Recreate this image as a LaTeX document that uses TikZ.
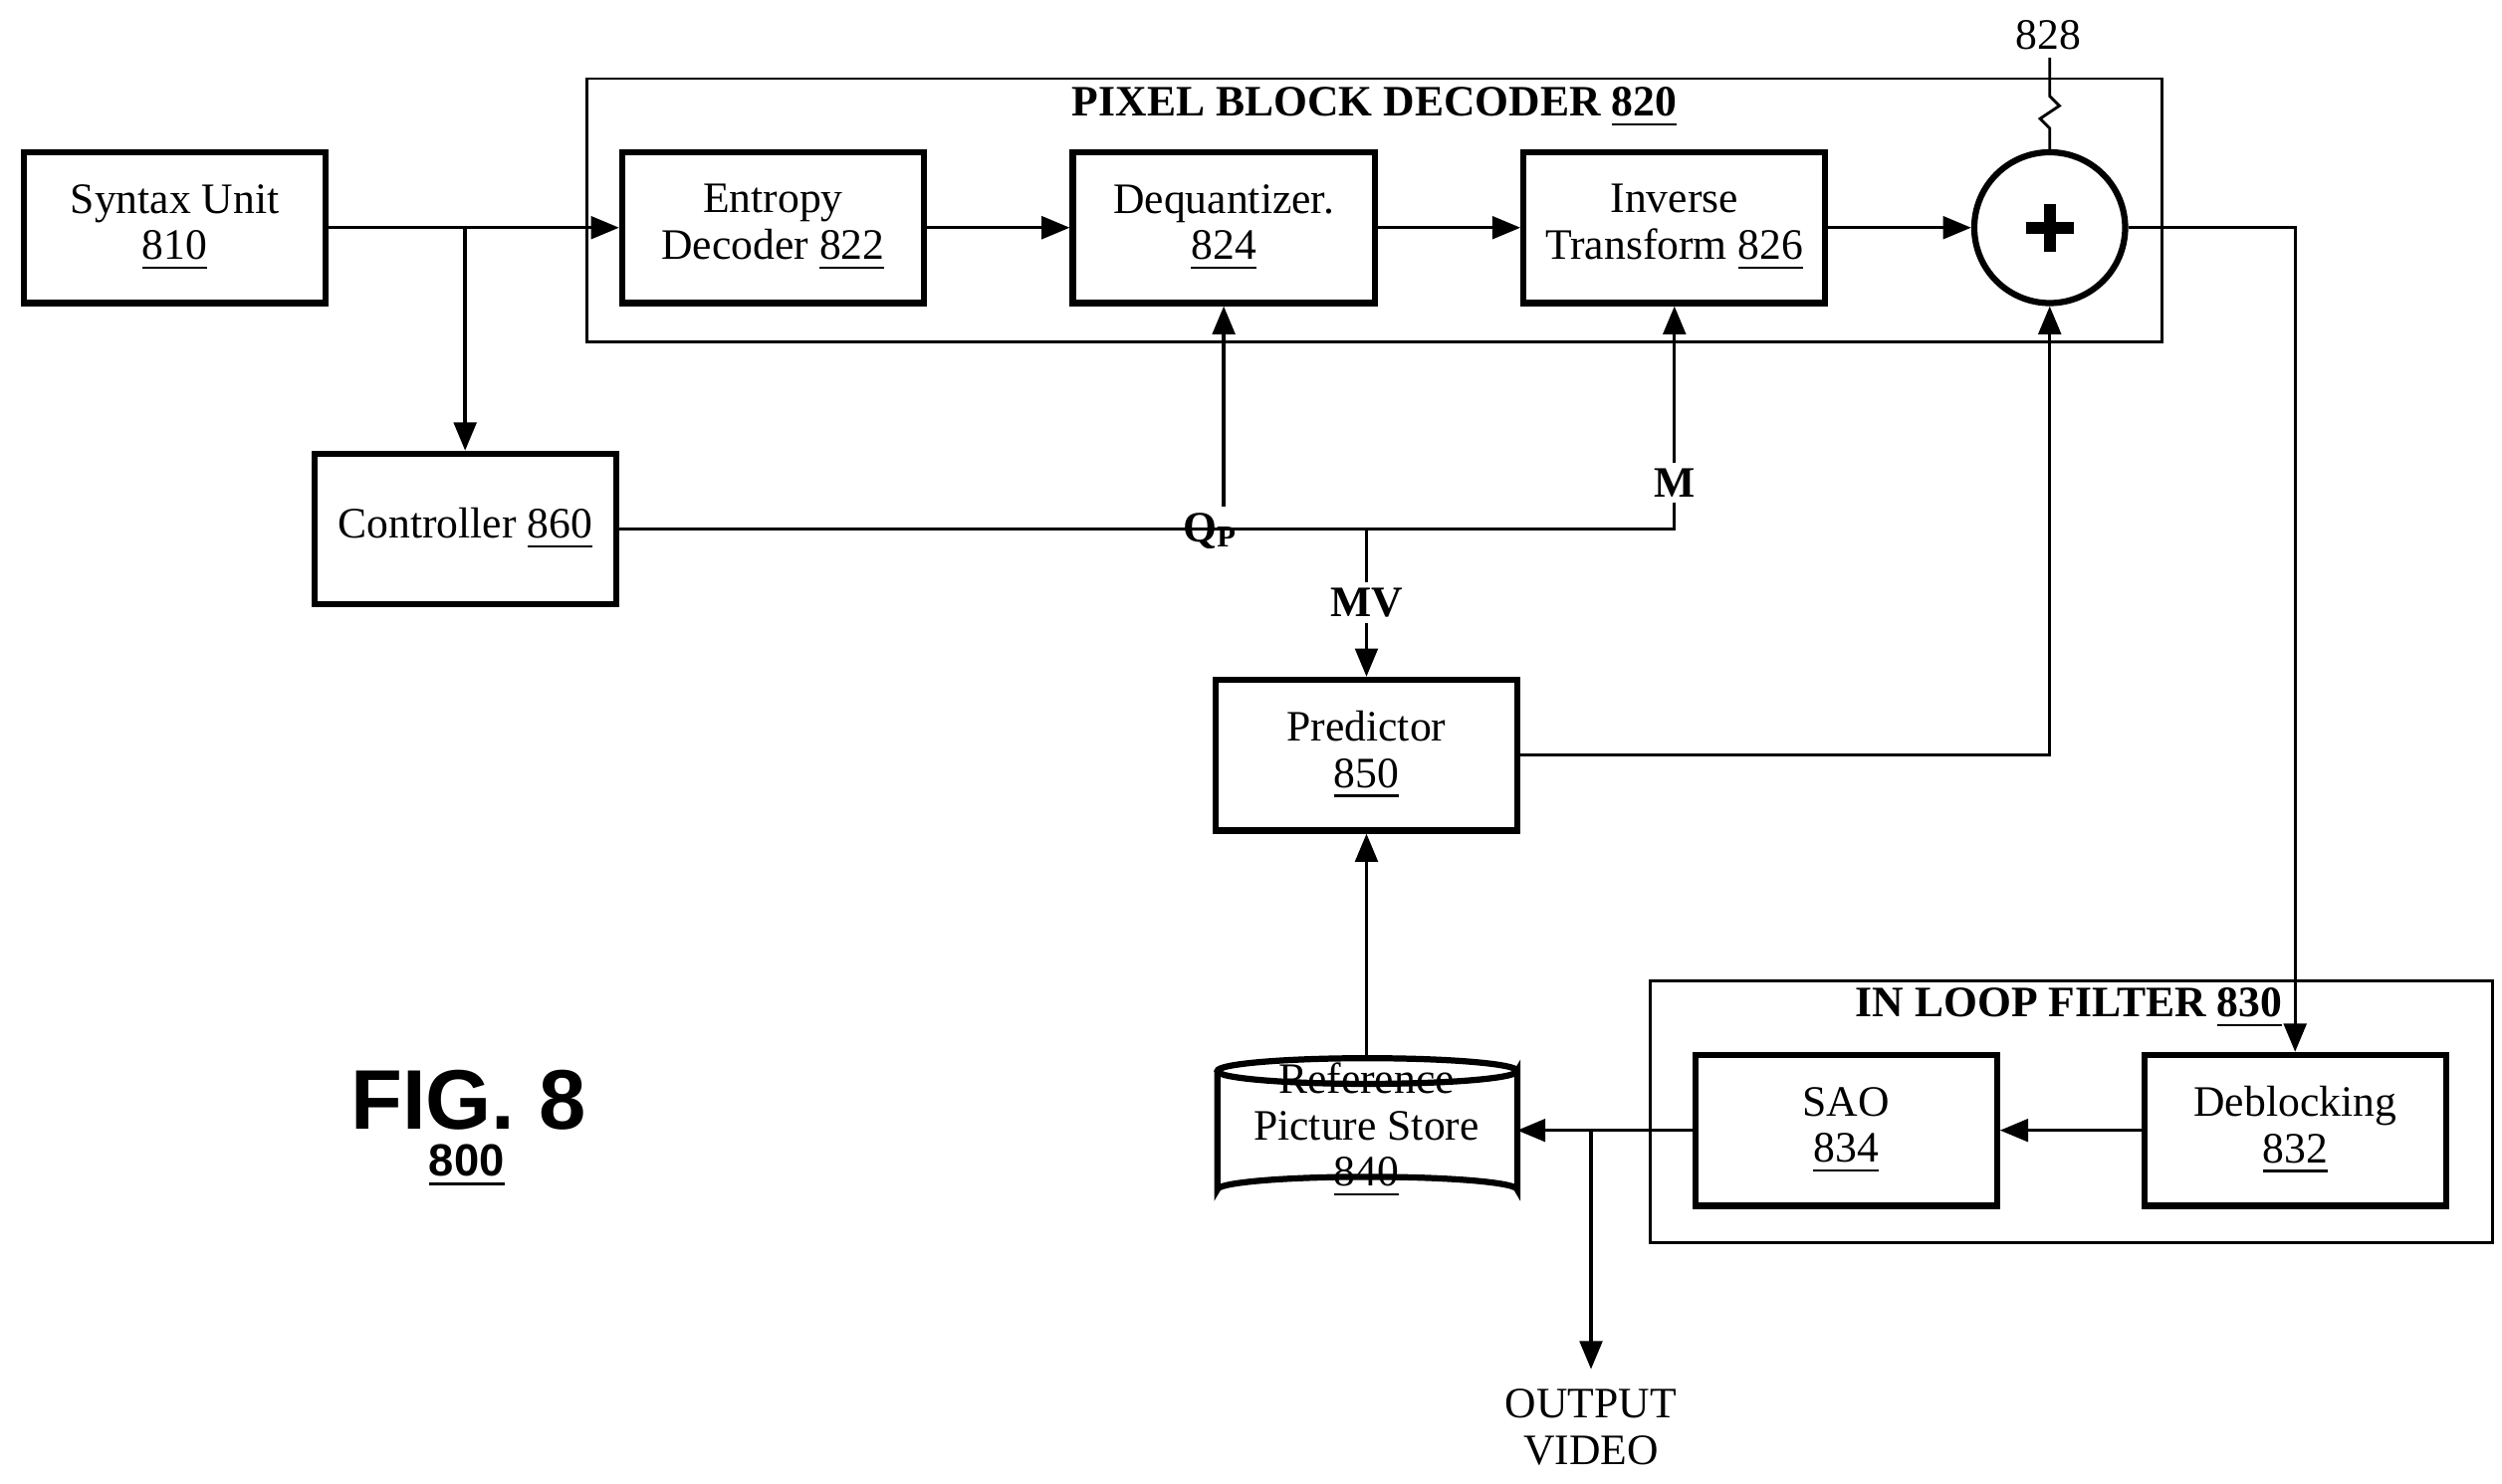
\documentclass[tikz,border=0pt]{standalone}
\usepackage{fontspec}
\setmainfont{Liberation Serif}
\newfontfamily\figfont{Liberation Sans}
\usetikzlibrary{arrows.meta,positioning,calc}
\begin{document}
\begin{tikzpicture}
  [
    x=0.01cm, y=-0.01cm,
    font=\fontsize{7.7}{8.2}\selectfont,
    Block/.style={rectangle, draw=black, line width=1.1pt, minimum width=1.88cm, minimum height=0.94cm, align=center, inner sep=0pt},
    Frame/.style={rectangle, draw=black, line width=0.5pt},
    Title/.style={font=\fontsize{7.7}{9}\selectfont\bfseries},
    Arrow/.style={-{Triangle[length=5pt,width=4pt]}, line width=0.6pt},
    Line/.style={line width=0.6pt}
  ]
  \useasboundingbox (0,0) rectangle (1560,925);
  % Frames
  \draw[Frame] (366,49) rectangle (1348,213);
  \node[Title] (pbd) at (857,67) {PIXEL BLOCK DECODER \underline{820}};
  \draw[Frame] (1029,612) rectangle (1554,775);
  \node[Title] (ilf) at (1290,629) {IN LOOP FILTER \underline{830}};
  % Nodes
  \node[Block] (syntax) at (109,142) {Syntax Unit\\\underline{810}};
  \node[Block] (entropy) at (482,142) {Entropy\\Decoder \underline{822}};
  \node[Block] (dequant) at (763,142) {Dequantizer.\\\underline{824}};
  \node[Block] (invtr) at (1044,142) {Inverse\\Transform \underline{826}};
  \node[circle, draw, line width=1.1pt, minimum size=0.94cm, inner sep=0pt] (adder) at (1278,142) {};
  \draw[line width=2.2pt] ($(adder)+(-15,0)$) -- ($(adder)+(15,0)$) ($(adder)+(0,-15)$) -- ($(adder)+(0,15)$);
  \node (lbl828) at (1277,22) {828};
  \draw[line width=0.5pt] (adder.north) -- (1278,80) -- (1272,74) -- (1284,66) -- (1278,60) -- (1278,36);
  \node[Block] (ctrl) at (290,330) {Controller \underline{860}};
  \node[Block] (pred) at (852,471) {Predictor\\\underline{850}};
  \node[minimum width=1.88cm, minimum height=0.9cm, align=center, inner sep=0pt] (store) at (852,705) {Reference\\Picture Store\\\underline{840}};
  \draw[line width=1.1pt] (759,668) -- (759,742) arc[start angle=180, end angle=360, x radius=93.5, y radius=8] -- (946,668)
    arc[start angle=0, end angle=360, x radius=93.5, y radius=8];
  \node[Block] (sao) at (1151,705) {SAO\\\underline{834}};
  \node[Block] (deblock) at (1431,705) {Deblocking\\\underline{832}};
  \node[font=\figfont\bfseries\fontsize{15}{16}\selectfont] (fig) at (292,686) {FIG. 8};
  \node[font=\figfont\bfseries\fontsize{8}{9}\selectfont] (num) at (291,727) {\underline{800}};
  \node[align=center] (out) at (992,890) {OUTPUT\\VIDEO};
  \coordinate (split) at (290,142);
  \coordinate (tap) at (992,705);
  % Lines
  \draw[Arrow] (syntax) -- (entropy);
  \draw[Arrow] (split) -- (ctrl);
  \draw[Arrow] (entropy) -- (dequant);
  \draw[Arrow] (dequant) -- (invtr);
  \draw[Arrow] (invtr) -- (adder);
  \draw[Arrow] (adder.east) -- (1431,142) -- (deblock.north);
  \draw[Arrow] (ctrl.east) -- (1044,330) -- (invtr.south);
  \draw[Arrow] (763,316) -- (dequant.south);
  \draw[Arrow] (852,330) -- (pred.north);
  \node[font=\fontsize{7.7}{9}\selectfont\bfseries] (qp) at (755,331) {Q\textsubscript{P}};
  \node[font=\fontsize{7.7}{9}\selectfont\bfseries, fill=white, inner sep=1pt] (m) at (1044,301) {M};
  \node[font=\fontsize{7.7}{9}\selectfont\bfseries, fill=white, inner sep=1pt] (mv) at (852,376) {MV};
  \draw[Arrow] (pred.east) -- (1278,471) -- (adder.south);
  \draw[Arrow] (852,660) -- (pred.south);
  \draw[Arrow] (deblock) -- (sao);
  \draw[Arrow] (sao.west) -- (946,705);
  \draw[Arrow] (tap) -- (out.north);
\end{tikzpicture}
\end{document}
